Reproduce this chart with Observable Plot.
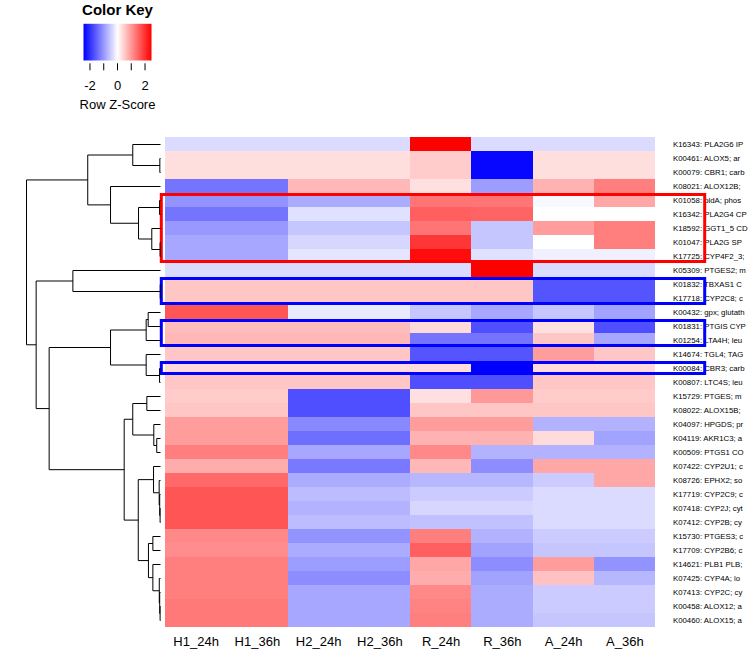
<!DOCTYPE html>
<html><head><meta charset="utf-8">
<script src="https://cdn.jsdelivr.net/npm/d3@7"></script>
<script src="https://cdn.jsdelivr.net/npm/@observablehq/plot@0.6"></script>
<style>
html,body{margin:0;padding:0;background:#fff;}
#chart{position:relative;width:754px;height:662px;overflow:hidden;background:#fff;}
#chart svg{position:absolute;left:0;top:0;}
</style></head><body><div id="chart"></div>
<script>
const columns = ["H1_24h","H1_36h","H2_24h","H2_36h","R_24h","R_36h","A_24h","A_36h"];
// Row labels as visible in the reference (truncated at the right edge there)
const rowLabels = [
"K16343: PLA2G6 IP",
"K00461: ALOX5; ar",
"K00079: CBR1; carb",
"K08021: ALOX12B;",
"K01058: pldA; phos",
"K16342: PLA2G4 CP",
"K18592: GGT1_5 CD",
"K01047: PLA2G SP",
"K17725: CYP4F2_3;",
"K05309: PTGES2; m",
"K01832: TBXAS1 C",
"K17718: CYP2C8; c",
"K00432: gpx; glutath",
"K01831: PTGIS CYP",
"K01254: LTA4H; leu",
"K14674: TGL4; TAG",
"K00084: CBR3; carb",
"K00807: LTC4S; leu",
"K15729: PTGES; m",
"K08022: ALOX15B;",
"K04097: HPGDS; pr",
"K04119: AKR1C3; a",
"K00509: PTGS1 CO",
"K07422: CYP2U1; c",
"K08726: EPHX2; so",
"K17719: CYP2C9; c",
"K07418: CYP2J; cyt",
"K07412: CYP2B; cy",
"K15730: PTGES3; c",
"K17709: CYP2B6; c",
"K14621: PLB1 PLB;",
"K07425: CYP4A; lo",
"K07413: CYP2C; cy",
"K00458: ALOX12; a",
"K00460: ALOX15; a"
];
// Row Z-scores per column (rows in label order)
const H1_24h = [-0.35,0.32,0.32,-1.35,-1.05,-1.35,-1.0,-0.85,-0.85,-0.35,0.55,0.55,1.65,0.65,0.7,0.55,0.35,0.55,0.5,0.55,0.95,0.95,1.25,0.8,1.45,1.65,1.65,1.65,1.15,1.1,1.25,1.25,1.25,1.3,1.3];
const H1_36h = [-0.35,0.32,0.32,-1.35,-1.05,-1.35,-1.0,-0.85,-0.85,-0.35,0.55,0.55,1.65,0.65,0.7,0.55,0.35,0.55,0.5,0.55,0.95,0.95,1.25,0.8,1.45,1.65,1.65,1.65,1.15,1.1,1.25,1.25,1.25,1.3,1.3];
const H2_24h = [-0.35,0.32,0.32,0.7,-0.8,-0.3,-0.55,-0.4,-0.25,-0.35,0.55,0.55,-0.2,0.65,0.7,0.55,0.35,0.55,-1.7,-1.7,-1.15,-1.4,-0.85,-1.3,-0.8,-0.65,-0.75,-0.65,-1.05,-0.8,-0.95,-1.1,-0.85,-0.85,-0.85];
const H2_36h = [-0.35,0.32,0.32,0.7,-0.8,-0.3,-0.55,-0.4,-0.25,-0.35,0.55,0.55,-0.2,0.65,0.7,0.55,0.35,0.55,-1.7,-1.7,-1.15,-1.4,-0.85,-1.3,-0.8,-0.65,-0.75,-0.65,-1.05,-0.8,-0.95,-1.1,-0.85,-0.85,-0.85];
const R_24h  = [2.47,0.5,0.5,0.3,1.35,1.55,1.35,1.95,2.35,-0.35,0.55,0.55,-0.55,0.35,-1.35,-1.65,0.35,-1.7,0.3,0.55,0.95,0.75,1.15,0.7,-0.7,-0.5,-0.4,-0.6,1.25,1.55,0.85,0.8,1.15,1.2,1.25];
const R_36h  = [-0.35,-2.4,-2.4,-0.95,1.35,1.5,-0.55,-0.55,-0.3,2.47,0.55,0.55,-0.85,-1.7,-1.35,-1.65,-2.47,-1.7,1.0,0.55,0.95,0.75,-0.75,-1.1,-0.7,-0.5,-0.4,-0.6,-0.75,-0.9,-1.1,-0.9,-0.8,-0.8,-0.8];
const A_24h  = [-0.35,0.32,0.32,0.75,-0.07,0,0.95,0,-0.15,-0.35,-1.65,-1.65,-0.55,0.3,0.55,0.95,0.35,0.55,0.5,0.55,-0.75,0.35,-0.75,0.85,-0.5,-0.35,-0.35,-0.35,-0.5,-0.55,0.95,0.6,-0.5,-0.5,-0.55];
const A_36h  = [-0.35,0.32,0.32,1.25,0.85,0,1.25,1.25,-0.15,-0.35,-1.65,-1.65,-0.9,-1.7,-0.85,0.55,0.35,0.55,0.5,0.55,-0.75,-0.9,-0.75,0.85,0.85,-0.35,-0.35,-0.35,-0.5,-0.55,-1.05,-0.7,-0.5,-0.5,-0.55];

// Row dendrogram, hclust-style merges: [childA, childB, height]; negative = leaf row (1-based), positive = earlier merge
const merges = [
 [-2,-3,0.05],[-1,1,2.07],[-5,-6,0.07],[-8,-9,0.03],[-7,4,0.65],[3,5,1.64],[-4,6,3.73],[2,7,5.43],
 [-11,-12,0.02],[-10,9,6.54],
 [-13,-14,0.92],[11,-15,1.07],[-17,-18,0.07],[-16,13,1.07],[12,14,3.73],
 [-19,-20,1.02],[-22,-23,0.28],[-21,17,0.5],[16,18,2.07],
 [-27,-28,0.03],[-26,20,0.06],[-25,21,0.1],[-24,22,0.52],
 [-29,-30,0.57],[-34,-35,0.03],[-33,25,0.06],[-32,26,0.09],[-31,27,0.57],[24,28,0.9],
 [23,29,1.66],[19,30,2.71],[15,31,8.31],[10,32,9.28],[8,33,10]
];
const treeMax = 10;

// Highlight boxes: [first row id, last row id]
const redBoxes = [["K01058","K17725"]];
const blueBoxes = [["K01832","K17718"],["K01831","K01254"],["K00084","K00084"]];

const keyTicks = [-2,-1,0,1,2];
const zMax = 2.47;

const font = "'Liberation Sans', Arial, Helvetica, sans-serif";
const colorScale = {type:"linear", domain:[-zMax,0,zMax], range:["#0000ff","#ffffff","#ff0000"], interpolate:"rgb", clamp:true};
const series = [H1_24h,H1_36h,H2_24h,H2_36h,R_24h,R_36h,A_24h,A_36h];
const rowIds = rowLabels.map(l => l.split(":")[0]);
const cells = rowLabels.flatMap((l,i) => columns.map((c,j) => ({row:i, col:j, z:series[j][i]})));
const boxRows = b => ({y1: rowIds.indexOf(b[0]), y2: rowIds.indexOf(b[1]) + 1});

const boxOpts = {fill:"none", strokeWidth:3, insetLeft:-3.7, insetRight:-49.7, insetTop:1.5, insetBottom:1.5};

const main = Plot.plot({
  width:754, height:662, marginLeft:165, marginRight:99, marginTop:137, marginBottom:35,
  style:{fontFamily:font, background:"transparent", overflow:"hidden", color:"#000"},
  x:{domain:[0, columns.length]},
  y:{domain:[0, rowLabels.length], reverse:true},
  color: colorScale,
  marks:[
    Plot.rect(cells, {x1:"col", x2:d=>d.col+1, y1:"row", y2:d=>d.row+1, fill:"z", shapeRendering:"crispEdges"}),
    Plot.axisX({ticks: columns.map((c,i)=>i+0.5), tickFormat: d=>columns[Math.floor(d)], tickSize:0, tickPadding:9.5, fontSize:13, label:null}),
    Plot.axisY({anchor:"right", ticks: rowLabels.map((r,i)=>i+0.5), tickFormat: d=>rowLabels[Math.floor(d)], tickSize:0, tickPadding:17.5, fontSize:7.8, label:null}),
    Plot.rect(redBoxes.map(boxRows), {...boxOpts, y1:"y1", y2:"y2", stroke:"#ff0000"}),
    Plot.rect(blueBoxes.map(boxRows), {...boxOpts, y1:"y1", y2:"y2", stroke:"#0000ff"})
  ]
});

// dendrogram segments
const nodes = [];
const segs = [];
const info = r => r < 0 ? {y: -r - 0.5, h: 0} : nodes[r - 1];
for (const [a, b, h] of merges) {
  const A = info(a), B = info(b);
  segs.push({x1:A.h, y1:A.y, x2:h, y2:A.y});
  segs.push({x1:B.h, y1:B.y, x2:h, y2:B.y});
  segs.push({x1:h, y1:A.y, x2:h, y2:B.y});
  nodes.push({y:(A.y + B.y) / 2, h});
}
const dendro = Plot.plot({
  width:165, height:662, marginLeft:26, marginRight:5, marginTop:137, marginBottom:35,
  style:{background:"transparent"},
  x:{domain:[0, treeMax], reverse:true, axis:null},
  y:{domain:[0, rowLabels.length], reverse:true, axis:null},
  marks:[
    Plot.link(segs, {x1:"x1", y1:"y1", x2:"x2", y2:"y2", stroke:"#000", strokeWidth:1})
  ]
});

const key = Plot.plot({
  width:200, height:120, marginLeft:83, marginRight:49, marginTop:23.3, marginBottom:56.7,
  style:{fontFamily:font, background:"transparent", color:"#000"},
  x:{domain:[-zMax, zMax]},
  y:{domain:[-0.09, 1], axis:null},
  color: colorScale,
  marks:[
    Plot.raster({x1:-zMax, x2:zMax, y1:0, y2:1, fill:(x, y) => x, width:136, height:1, imageRendering:"auto"}),
    Plot.axisX({ticks:keyTicks, tickFormat:d => d % 2 === 0 ? String(d) : "", tickSize:7, tickPadding:9.5, fontSize:13, label:null}),
    Plot.text(["Color Key"], {x:0, y:1, text:d=>d, dy:-8.3, lineAnchor:"bottom", fontSize:15, fontWeight:"bold"}),
    Plot.text(["Row Z-Score"], {x:0, y:-0.09, text:d=>d, dy:45.2, lineAnchor:"bottom", fontSize:13})
  ]
});

const chart = document.getElementById("chart");
chart.append(main, dendro, key);
</script></body></html>
